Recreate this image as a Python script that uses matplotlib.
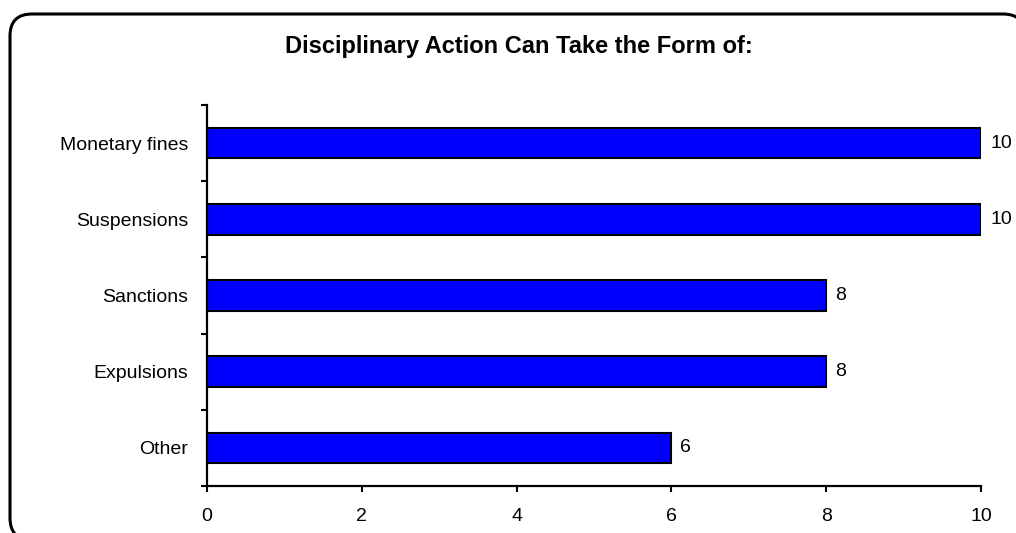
import matplotlib
matplotlib.use("Agg")
import matplotlib.pyplot as plt
from matplotlib.patches import FancyBboxPatch
from matplotlib.ticker import FixedLocator

plt.rcParams['font.family'] = ['Liberation Sans', 'DejaVu Sans']

title = "Disciplinary Action Can Take the Form of:"
categories = ["Monetary fines", "Suspensions", "Sanctions", "Expulsions", "Other"]
values = [10, 10, 8, 8, 6]
x_ticks = [0, 2, 4, 6, 8, 10]

W, H, DPI = 1016, 533, 100
fig = plt.figure(figsize=(W / DPI, H / DPI), dpi=DPI)

# background layer in pixel units holding the rounded frame
bg = fig.add_axes([0, 0, 1, 1], zorder=-1)
bg.set_xlim(0, W)
bg.set_ylim(0, H)
bg.axis("off")
frame = FancyBboxPatch((10, -7), 1015, 526,
                       boxstyle="round,pad=0,rounding_size=22",
                       facecolor="white", edgecolor="black", linewidth=2.2)
bg.add_patch(frame)

ax = fig.add_axes([207 / W, (H - 486) / H, 774 / W, 381 / H])
ax.patch.set_alpha(0)

n = len(categories)
pos = list(range(n))[::-1]
ax.barh(pos, values, height=0.4, color="#0000FF", edgecolor="black", linewidth=1.5, zorder=2)

for p, v in zip(pos, values):
    ax.annotate(f"{v}", xy=(v, p), xytext=(6.5, 0), textcoords="offset points",
                va="center", ha="left", fontsize=14)

ax.set_xlim(0, 10)
ax.set_ylim(-0.5, n - 0.5)
ax.set_xticks(x_ticks)
ax.set_xticklabels([str(t) for t in x_ticks], fontsize=14)
ax.set_yticks(pos)
ax.set_yticklabels(categories, fontsize=14)
ax.yaxis.set_minor_locator(FixedLocator([i - 0.5 for i in range(n + 1)]))

ax.tick_params(axis="y", which="major", length=0, pad=13.5)
ax.tick_params(axis="y", which="minor", length=4.5, width=1.5, direction="out")
ax.tick_params(axis="x", which="major", length=4.5, width=1.5, direction="out", pad=11)

for side in ("top", "right"):
    ax.spines[side].set_visible(False)
for side in ("left", "bottom"):
    ax.spines[side].set_linewidth(1.6)

fig.text(519 / W, 1 - 53 / H, title, ha="center", va="baseline",
         fontsize=17, fontweight="bold")

fig.savefig("out.png", dpi=DPI)
